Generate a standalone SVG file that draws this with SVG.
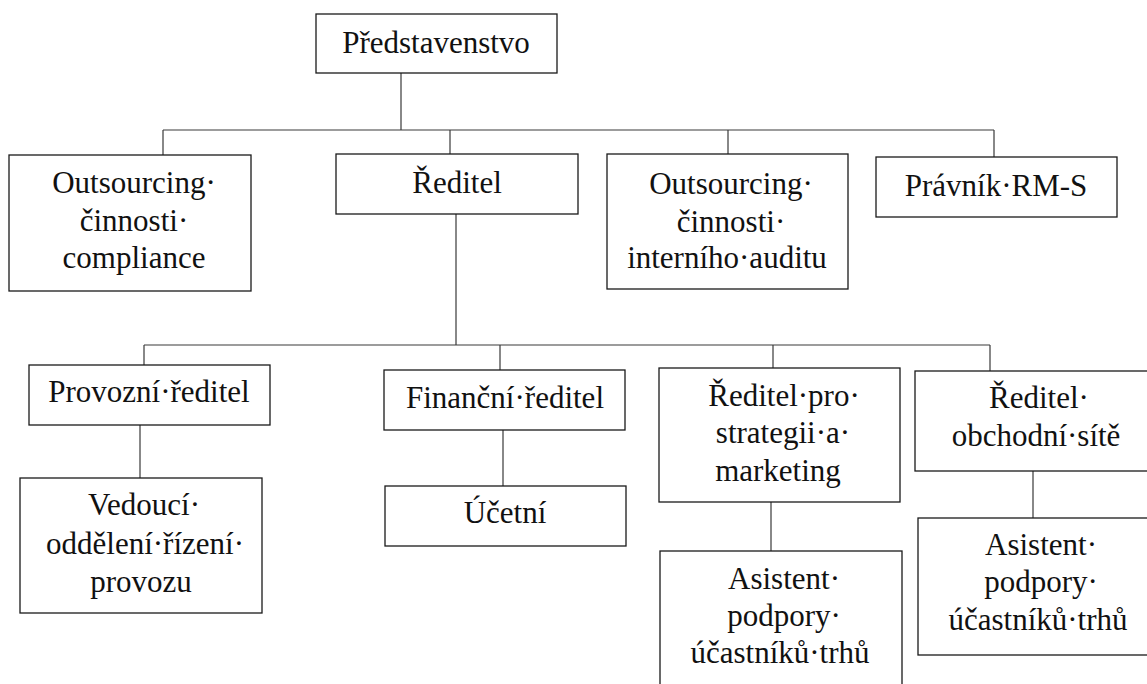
<svg xmlns="http://www.w3.org/2000/svg" width="1147" height="684" viewBox="0 0 1147 684">
<defs>
<style>
.box{fill:#fff;stroke:#1a1a1a;stroke-width:1.3}
.con{stroke:#3a3a3a;stroke-width:1.2;fill:none}
</style>
</defs>
<rect width="1147" height="684" fill="#fff"/>
<g id="connectors">
<path class="con" d="M401,73V130 M163,130H994 M163,130V155 M450,130V154 M728,130V154 M994,130V157 M456,214V345 M144,345H990 M144,345V365 M500,345V370 M773,345V368 M990,345V371 M140,425V478 M503,430V486 M771,502V551 M1033,471V518"/>
</g>
<g id="predstavenstvo"><rect class="box" x="316" y="14" width="241" height="59"/><text font-family="Liberation Serif" font-size="31" fill="#111" text-anchor="middle" x="436" y="53">Představenstvo</text></g>
<g id="outsourcing-compliance"><rect class="box" x="9" y="155" width="242" height="136"/><text font-family="Liberation Serif" font-size="31" fill="#111" text-anchor="middle" x="134" y="193">Outsourcing·</text><text font-family="Liberation Serif" font-size="31" fill="#111" text-anchor="middle" x="134" y="231">činnosti·</text><text font-family="Liberation Serif" font-size="31" fill="#111" text-anchor="middle" x="134" y="268">compliance</text></g>
<g id="reditel"><rect class="box" x="336" y="154" width="242" height="60"/><text font-family="Liberation Serif" font-size="31" fill="#111" text-anchor="middle" x="457" y="193">Ředitel</text></g>
<g id="outsourcing-audit"><rect class="box" x="607" y="154" width="241" height="135"/><text font-family="Liberation Serif" font-size="31" fill="#111" text-anchor="middle" x="731" y="194">Outsourcing·</text><text font-family="Liberation Serif" font-size="31" fill="#111" text-anchor="middle" x="731" y="232">činnosti·</text><text font-family="Liberation Serif" font-size="31" fill="#111" text-anchor="middle" x="727" y="268">interního·auditu</text></g>
<g id="pravnik"><rect class="box" x="876" y="157" width="241" height="60"/><text font-family="Liberation Serif" font-size="31" fill="#111" text-anchor="middle" x="996" y="196">Právník·RM-S</text></g>
<g id="provozni-reditel"><rect class="box" x="29" y="365" width="241" height="60"/><text font-family="Liberation Serif" font-size="31" fill="#111" text-anchor="middle" x="149" y="402">Provozní·ředitel</text></g>
<g id="vedouci"><rect class="box" x="20" y="478" width="242" height="135"/><text font-family="Liberation Serif" font-size="31" fill="#111" text-anchor="middle" x="144" y="515">Vedoucí·</text><text font-family="Liberation Serif" font-size="31" fill="#111" text-anchor="middle" x="145" y="554">oddělení·řízení·</text><text font-family="Liberation Serif" font-size="31" fill="#111" text-anchor="middle" x="141" y="592">provozu</text></g>
<g id="financni-reditel"><rect class="box" x="384" y="370" width="241" height="60"/><text font-family="Liberation Serif" font-size="31" fill="#111" text-anchor="middle" x="505" y="408">Finanční·ředitel</text></g>
<g id="ucetni"><rect class="box" x="385" y="486" width="241" height="60"/><text font-family="Liberation Serif" font-size="31" fill="#111" text-anchor="middle" x="505" y="523">Účetní</text></g>
<g id="reditel-strategie"><rect class="box" x="659" y="368" width="241" height="134"/><text font-family="Liberation Serif" font-size="31" fill="#111" text-anchor="middle" x="784" y="406">Ředitel·pro·</text><text font-family="Liberation Serif" font-size="31" fill="#111" text-anchor="middle" x="783" y="443">strategii·a·</text><text font-family="Liberation Serif" font-size="31" fill="#111" text-anchor="middle" x="778" y="481">marketing</text></g>
<g id="asistent-1"><rect class="box" x="660" y="551" width="242" height="150"/><text font-family="Liberation Serif" font-size="31" fill="#111" text-anchor="middle" x="784" y="589">Asistent·</text><text font-family="Liberation Serif" font-size="31" fill="#111" text-anchor="middle" x="784" y="626">podpory·</text><text font-family="Liberation Serif" font-size="31" fill="#111" text-anchor="middle" x="780" y="663">účastníků·trhů</text></g>
<g id="reditel-obchodni"><rect class="box" x="915" y="371" width="242" height="100"/><text font-family="Liberation Serif" font-size="31" fill="#111" text-anchor="middle" x="1039" y="408">Ředitel·</text><text font-family="Liberation Serif" font-size="31" fill="#111" text-anchor="middle" x="1036" y="446">obchodní·sítě</text></g>
<g id="asistent-2"><rect class="box" x="918" y="518" width="242" height="137"/><text font-family="Liberation Serif" font-size="31" fill="#111" text-anchor="middle" x="1041" y="555">Asistent·</text><text font-family="Liberation Serif" font-size="31" fill="#111" text-anchor="middle" x="1041" y="592">podpory·</text><text font-family="Liberation Serif" font-size="31" fill="#111" text-anchor="middle" x="1038" y="630">účastníků·trhů</text></g>
</svg>
